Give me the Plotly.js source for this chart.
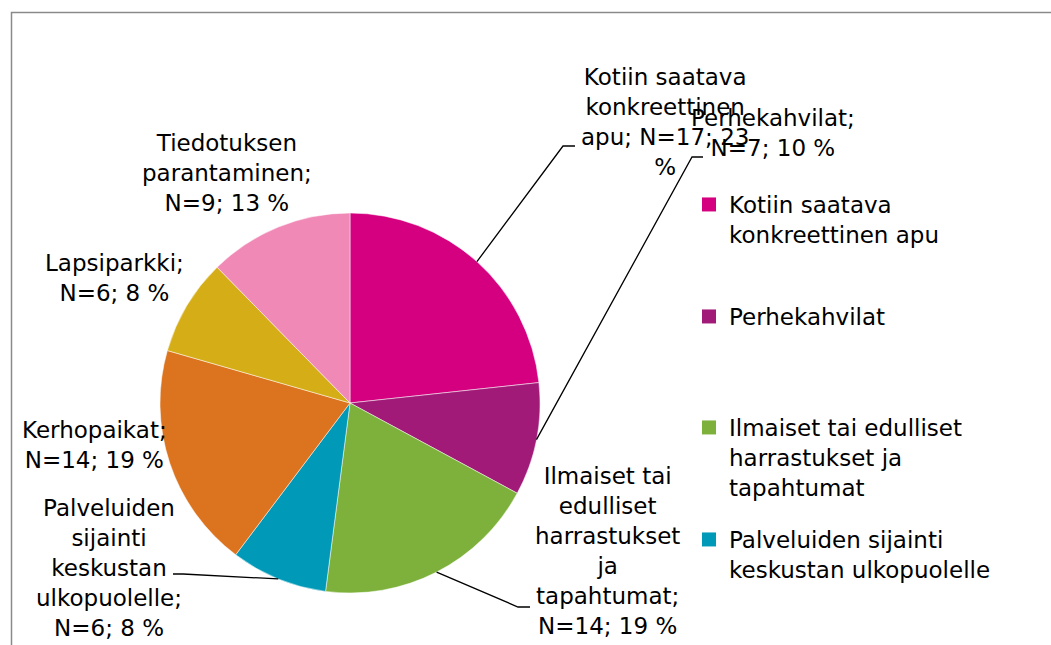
<!DOCTYPE html>
<html>
<head>
<meta charset="utf-8">
<script src="https://cdn.plot.ly/plotly-3.0.1.min.js"></script>
<style>html,body{margin:0;padding:0;background:#fff;}#chart{width:1051px;height:645px;}</style>
</head>
<body>
<div id="chart"></div>
<script>
const categories = [
  'Kotiin saatava konkreettinen apu',
  'Perhekahvilat',
  'Ilmaiset tai edulliset harrastukset ja tapahtumat',
  'Palveluiden sijainti keskustan ulkopuolelle',
  'Kerhopaikat',
  'Lapsiparkki',
  'Tiedotuksen parantaminen'
];
const counts = [17, 7, 14, 6, 14, 6, 9];
const percents = [23, 10, 19, 8, 19, 8, 13];
const colors = ['#D5007F', '#A21A78', '#7DB13C', '#0099B7', '#DC731E', '#D5AD16', '#F189B7'];
// wrapped label text as in the picture
const wrappedNames = [
  'Kotiin saatava<br>konkreettinen<br>apu',
  'Perhekahvilat',
  'Ilmaiset tai<br>edulliset<br>harrastukset<br>ja<br>tapahtumat',
  'Palveluiden<br>sijainti<br>keskustan<br>ulkopuolelle',
  'Kerhopaikat',
  'Lapsiparkki',
  'Tiedotuksen<br>parantaminen'
];
const nameSep = ['; ', ';<br>', ';<br>', ';<br>', ';<br>', ';<br>', ';<br>'];
const pctSep = ['<br>', ' ', ' ', ' ', ' ', ' ', ' '];
const legendNames = [
  'Kotiin saatava<br>konkreettinen apu',
  'Perhekahvilat',
  'Ilmaiset tai edulliset<br>harrastukset ja<br>tapahtumat',
  'Palveluiden sijainti<br>keskustan ulkopuolelle'
];

const W = 1051, H = 645;
const FONT = 'DejaVu Sans';
const FS = 23;

// pie geometry (layout)
const pieBox = {x0: 160, x1: 540, y0: 213, y1: 593};
const cx = (pieBox.x0 + pieBox.x1) / 2, cy = (pieBox.y0 + pieBox.y1) / 2;
const R = (pieBox.x1 - pieBox.x0) / 2;

// label positions (layout)
const labelPos = [[665, 122], [773, 133], [607, 551], [109, 568], [94, 445], [114, 278], [227, 173]];
// leader line elbows (layout), null = no leader
const leaders = [[[563, 146], [575, 146]], [[692, 157], [703, 157]], [[518, 607], [530, 607]], [[183, 574], [173, 574]], null, null, null];
// legend tops (layout)
const legendTops = [183, 295, 406, 518];

const total = counts.reduce((a, b) => a + b, 0);
let cum = 0;
const shapes = [];
const annotations = [];
counts.forEach((c, i) => {
  const mid = (cum + c / 2) / total * 2 * Math.PI;
  cum += c;
  const px = cx + R * Math.sin(mid), py = cy - R * Math.cos(mid);
  const text = wrappedNames[i] + nameSep[i] + 'N=' + c + '; ' + percents[i] + pctSep[i] + '%';
  annotations.push({
    x: labelPos[i][0], y: labelPos[i][1], xref: 'x', yref: 'y',
    text: text, showarrow: false, align: 'center', xanchor: 'center', yanchor: 'middle',
    font: {family: FONT, size: FS, color: '#000'}
  });
  if (leaders[i]) {
    const [e, f] = leaders[i];
    shapes.push({
      type: 'path', xref: 'x', yref: 'y',
      path: `M ${px} ${py} L ${e[0]} ${e[1]} L ${f[0]} ${f[1]}`,
      line: {color: '#000', width: 1.3}, layer: 'above'
    });
  }
});

shapes.push({
  type: 'rect', xref: 'x', yref: 'y', x0: 11.5, y0: 12.5, x1: W + 20, y1: H + 20,
  line: {color: '#8a8a8a', width: 1.5}, layer: 'below'
});

const traces = [{
  type: 'pie',
  labels: categories,
  values: counts,
  marker: {colors: colors, line: {color: '#ffffff', width: 0.5}},
  sort: false,
  direction: 'clockwise',
  rotation: 0,
  textinfo: 'none',
  hoverinfo: 'none',
  showlegend: false,
  domain: {x: [pieBox.x0 / W, pieBox.x1 / W], y: [1 - pieBox.y1 / H, 1 - pieBox.y0 / H]}
}];

const legendKeys = ['legend', 'legend2', 'legend3', 'legend4'];
legendNames.forEach((n, i) => {
  traces.push({
    type: 'scatter', mode: 'markers', x: [null], y: [null],
    name: n, legend: legendKeys[i], showlegend: true, hoverinfo: 'none',
    marker: {symbol: 'square', size: 14, color: colors[i]}
  });
});

const layout = {
  width: W, height: H,
  margin: {l: 0, r: 0, t: 0, b: 0},
  paper_bgcolor: '#fff', plot_bgcolor: 'rgba(0,0,0,0)',
  xaxis: {range: [0, W], visible: false, fixedrange: true},
  yaxis: {range: [H, 0], visible: false, fixedrange: true},
  shapes: shapes,
  annotations: annotations,
  font: {family: FONT, size: FS, color: '#000'}
};
legendKeys.forEach((k, i) => {
  layout[k] = {
    x: 689 / W, y: 1 - legendTops[i] / H, xanchor: 'left', yanchor: 'top',
    bgcolor: 'rgba(0,0,0,0)', valign: 'top', itemwidth: 30,
    font: {family: FONT, size: FS, color: '#000'}
  };
});

Plotly.newPlot('chart', traces, layout, {staticPlot: true, displayModeBar: false});
</script>
</body>
</html>
